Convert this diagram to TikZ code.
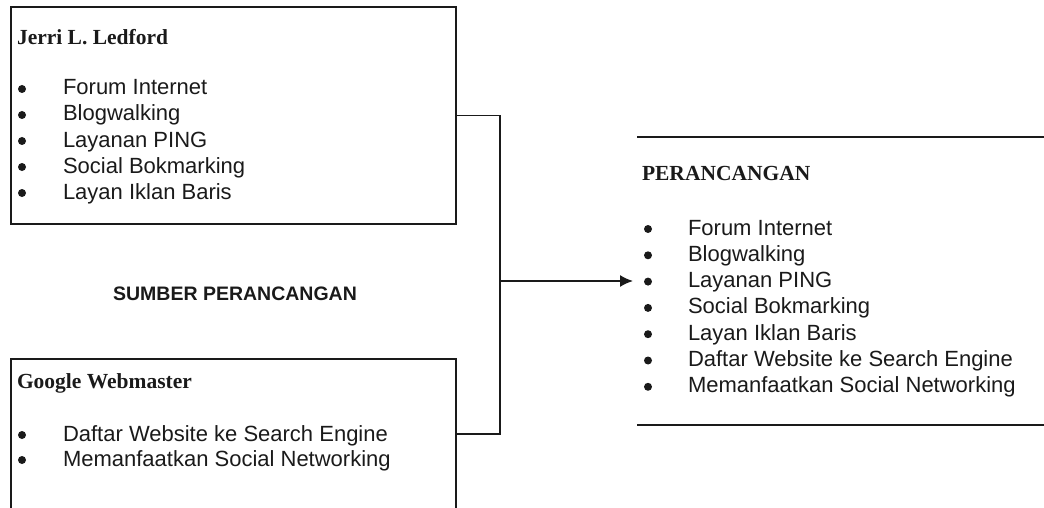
\documentclass[tikz,border=0pt]{standalone}
\usepackage{fontspec}
\setmainfont{Liberation Sans}
\newfontfamily\headfont{Liberation Serif}
\usepackage{tikz}
\usetikzlibrary{arrows.meta,positioning,calc}
\definecolor{ink}{HTML}{1A1A1A}

\begin{document}
\begin{tikzpicture}[x=1pt,y=-1pt,
  every node/.style={inner sep=0pt,outer sep=0pt,text=ink},
  frame/.style={draw=ink,line width=1.6pt,rectangle,anchor=north west},
  head/.style={anchor=base west,font=\headfont\bfseries\fontsize{21.5}{24}\selectfont},
  item/.style={anchor=base west,font=\fontsize{22}{26}\selectfont},
  dot/.style={circle,fill=ink,minimum size=8pt},
  link/.style={draw=ink,line width=1.6pt},
  arrow/.style={-{Latex[length=13pt,width=12pt]},link,shorten >=4pt}]
  \useasboundingbox (0,0) rectangle (1044,508);
  \clip (0,0) rectangle (1044,508);
  % sumber
  \node[frame,minimum width=445pt,minimum height=217pt] (jerri) at (11,7) {};
  \node[frame,minimum width=445pt,minimum height=150pt] (google) at (11,359) {};
  \node[head] (jerrihead) at (17,45) {Jerri L. Ledford};
  \foreach \t [count=\k] in {Forum Internet,Blogwalking,Layanan PING,Social Bokmarking,Layan Iklan Baris}{
    \node[dot] (jerridot\k) at (22,{89+26*(\k-1)}) {};
    \node[item] (jerri\k) at (63,{95+26*(\k-1)}) {\t};
  }
  \node[anchor=base,font=\bfseries\fontsize{19.5}{22}\selectfont] (sumber) at (235,300) {SUMBER PERANCANGAN};
  \node[head] (googlehead) at (17,388) {Google Webmaster};
  \foreach \t [count=\k] in {Daftar Website ke Search Engine,Memanfaatkan Social Networking}{
    \node[dot] (googledot\k) at (22,{435+25*(\k-1)}) {};
    \node[item] (google\k) at (63,{441+25*(\k-1)}) {\t};
  }
  % perancangan
  \node[minimum width=430pt,minimum height=288pt,anchor=north west] (rancang) at (637,137) {};
  \draw[link] (rancang.north west) -- (rancang.north east);
  \draw[link] (rancang.south west) -- (rancang.south east);
  \node[head] (rancanghead) at (642,180) {PERANCANGAN};
  \foreach \t [count=\k] in {Forum Internet,Blogwalking,Layanan PING,Social Bokmarking,Layan Iklan Baris,Daftar Website ke Search Engine,Memanfaatkan Social Networking}{
    \node[dot] (rancangdot\k) at (648,{229+26.3*(\k-1)}) {};
    \node[item] (rancang\k) at (688,{235+26.3*(\k-1)}) {\t};
  }
  \coordinate (hub) at (500,281);
  \draw[link] (jerri.east) -| (hub);
  \draw[link] (google.east) -| (hub);
  \draw[arrow] (hub) -- (rancang.west);
\end{tikzpicture}
\end{document}
